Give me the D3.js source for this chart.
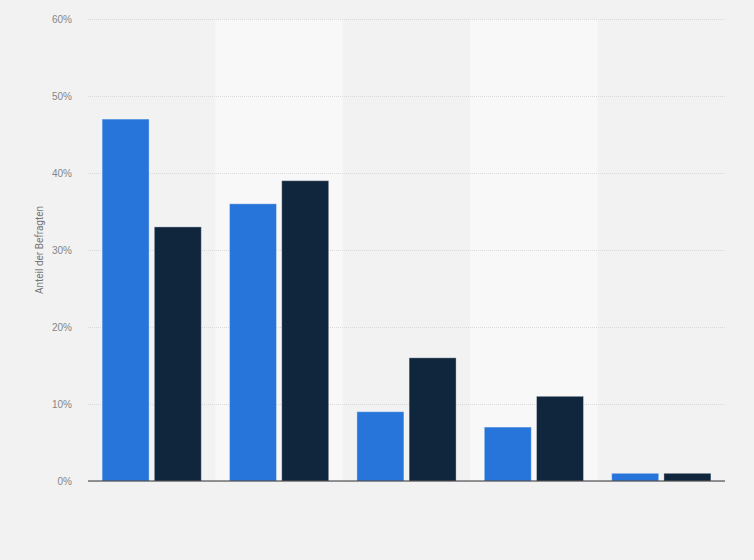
<!DOCTYPE html>
<html>
<head>
<meta charset="utf-8">
<script src="https://cdn.jsdelivr.net/npm/d3@7"></script>
<style>
  body { margin: 0; background: #f2f2f2; }
  svg { display: block; font-family: Roboto, "Liberation Sans", Arial, sans-serif; }
</style>
</head>
<body>
<svg width="754" height="560"></svg>
<script>
// Kategorien (keine Beschriftung sichtbar im Original)
const CATEGORIES = ['A', 'B', 'C', 'D', 'E'];
const SERIES = ['s1', 's2'];
const VALUES_1 = [47, 36, 9, 7, 1];
const VALUES_2 = [33, 39, 16, 11, 1];
const Y_TICKS = [0, 10, 20, 30, 40, 50, 60];

const COLORS = {s1: '#2775da', s2: '#10263d'};

const DATA = CATEGORIES.map((c, i) => ({cat: c, s1: VALUES_1[i], s2: VALUES_2[i]}));

const margin = {top: 19, left: 88, right: 29, bottom: 79};
const W = 754, H = 560;

const svg = d3.select('svg');

svg.append('rect')
  .attr('width', W).attr('height', H)
  .attr('fill', '#f2f2f2');

const xScale = d3.scaleBand()
  .domain(CATEGORIES)
  .range([margin.left, W - margin.right]);

const xInner = d3.scaleBand()
  .domain(SERIES)
  .range([0, xScale.bandwidth()])
  .paddingInner(0.1)
  .paddingOuter(0.27);

const yScale = d3.scaleLinear()
  .domain([0, 60])
  .range([H - margin.bottom, margin.top]);

// abwechselnde helle Bänder
svg.append('g')
  .selectAll('rect')
  .data(CATEGORIES.filter((d, i) => i % 2 === 1))
  .enter()
  .append('rect')
  .attr('x', d => xScale(d))
  .attr('y', margin.top)
  .attr('width', xScale.bandwidth())
  .attr('height', yScale(0) - margin.top)
  .attr('fill', '#f8f8f8');

// Gitterlinien + Beschriftung
const yAxis = svg.append('g')
  .attr('transform', `translate(${margin.left},0)`)
  .call(d3.axisLeft(yScale)
    .tickValues(Y_TICKS)
    .tickSize(-(W - margin.left - margin.right))
    .tickPadding(16)
    .tickFormat(d => d + '%'));

yAxis.select('.domain').remove();
yAxis.selectAll('.tick line')
  .attr('stroke', '#d9d9d9')
  .attr('stroke-dasharray', '1,1');
yAxis.selectAll('.tick text')
  .attr('fill', '#868686')
  .attr('font-size', 10);

// Balken
const groups = svg.append('g')
  .selectAll('g')
  .data(DATA)
  .enter()
  .append('g')
  .attr('transform', d => `translate(${xScale(d.cat)},0)`);

groups.selectAll('rect')
  .data(d => SERIES.map(s => ({s: s, value: d[s]})))
  .enter()
  .append('rect')
  .attr('x', d => xInner(d.s))
  .attr('width', xInner.bandwidth())
  .attr('y', d => yScale(d.value))
  .attr('height', d => yScale(0) - yScale(d.value))
  .attr('fill', d => COLORS[d.s])
  .attr('stroke', 'rgba(255,255,255,0.35)')
  .attr('stroke-width', 1);

// Nulllinie
svg.append('line')
  .attr('x1', margin.left)
  .attr('x2', W - margin.right)
  .attr('y1', yScale(0))
  .attr('y2', yScale(0))
  .attr('stroke', '#333')
  .attr('stroke-width', 1);

// Achsentitel
svg.append('text')
  .attr('transform', `translate(43,${(yScale(0) + margin.top) / 2}) rotate(-90)`)
  .attr('text-anchor', 'middle')
  .attr('fill', '#777')
  .attr('font-size', 10)
  .text('Anteil der Befragten');
</script>
</body>
</html>
